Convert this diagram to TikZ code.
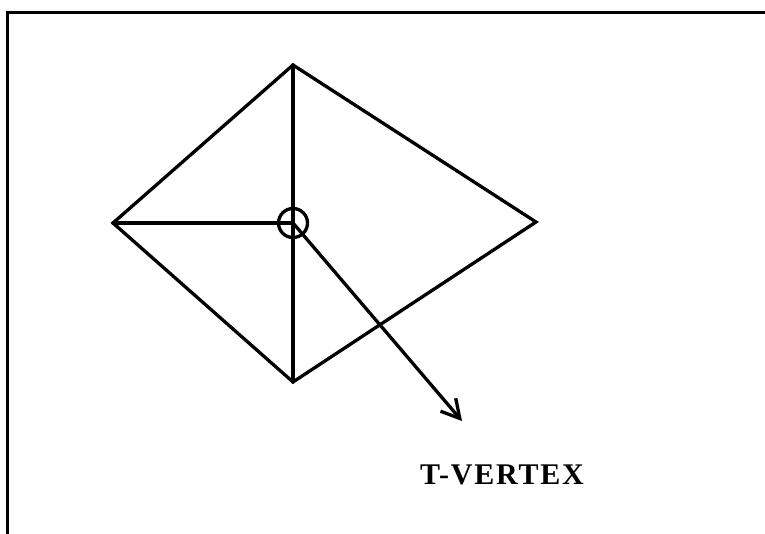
\documentclass[tikz,border=0pt]{standalone}
\usepackage{fontspec}
\setmainfont{Liberation Serif}
\usetikzlibrary{arrows.meta}
\begin{document}
\begin{tikzpicture}[x=1pt,y=-1pt,
  edge/.style={line width=3.3pt,line cap=round,line join=miter},
  label/.style={font=\fontsize{30}{32}\selectfont\bfseries\addfontfeature{LetterSpace=6}, inner sep=0pt}]
\useasboundingbox (0,0) rectangle (765,534);
% frame
\draw[line width=3pt] (7,534) -- (7,13) -- (765,13);
% vertices
\coordinate (T) at (293,65);
\coordinate (L) at (113,223);
\coordinate (R) at (536,222);
\coordinate (B) at (293,382);
\coordinate (C) at (293,223);
\coordinate (tip) at (462,421);
\draw[edge] (T) -- (R) -- (B) -- (L) -- cycle;
\draw[edge] (T) -- (B);
\draw[edge] (L) -- (C);
\draw[line width=3.3pt] (C) circle (14.5);
\draw[edge, -{Straight Barb[length=18pt,width=20pt,line width=3.3pt]}] (C) -- (tip);
\node[label] (lbl) at (502,475) {T-VERTEX};
\end{tikzpicture}
\end{document}
